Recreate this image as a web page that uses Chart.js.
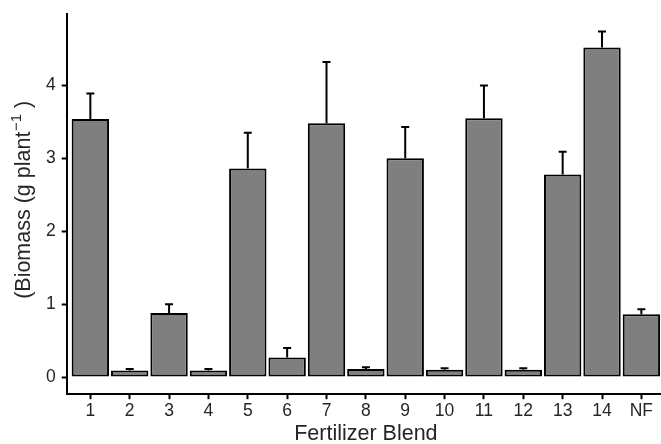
<!DOCTYPE html>
<html><head><meta charset="utf-8">
<script src="https://cdn.jsdelivr.net/npm/chart.js@4"></script>
<style>html,body{margin:0;padding:0;background:#fff;overflow:hidden;width:661px;height:444px}canvas{display:block}</style>
</head><body>
<canvas id="c" width="665" height="444"></canvas>
<script>
const categories = ['1','2','3','4','5','6','7','8','9','10','11','12','13','14','NF'];
const biomass = [3.54, 0.09, 0.88, 0.09, 2.86, 0.27, 3.48, 0.11, 3.00, 0.10, 3.55, 0.10, 2.78, 4.52, 0.86];
const biomassUpper = [3.89, 0.11, 1.00, 0.11, 3.35, 0.40, 4.32, 0.135, 3.43, 0.12, 4.00, 0.12, 3.09, 4.74, 0.93];
const yTicks = [0, 1, 2, 3, 4];
const yTitle = ['(Biomass (g plant', '\u22121', ' )'];   // main text, superscript, tail

const FONT = "'Liberation Sans', Arial, sans-serif";
const TXT = '#262626';

const errorBars = {
  id: 'errorBars',
  afterDatasetsDraw(chart) {
    const ctx = chart.ctx, xs = chart.scales.x, ys = chart.scales.y;
    ctx.save();
    ctx.strokeStyle = '#000';
    ctx.lineWidth = 2;
    biomass.forEach((v, i) => {
      const x = xs.getPixelForValue(i + 1);
      const y0 = ys.getPixelForValue(v);
      const y1 = ys.getPixelForValue(biomassUpper[i]);
      ctx.beginPath();
      ctx.moveTo(x, y0); ctx.lineTo(x, y1);
      ctx.moveTo(x - 4, y1); ctx.lineTo(x + 4, y1);
      ctx.stroke();
    });
    ctx.restore();
  }
};

const yTitlePlugin = {
  id: 'yTitleSup',
  afterDraw(chart) {
    const ctx = chart.ctx, ca = chart.chartArea;
    const big = '21.5px ' + FONT, small = '15px ' + FONT;
    ctx.save();
    ctx.fillStyle = TXT;
    ctx.textBaseline = 'alphabetic';
    ctx.textAlign = 'left';
    ctx.font = big; const w0 = ctx.measureText(yTitle[0]).width, w2 = ctx.measureText(yTitle[2]).width;
    ctx.font = small; const w1 = ctx.measureText(yTitle[1]).width;
    const total = w0 + w1 + w2;
    ctx.translate(30, (ca.top + ca.bottom) / 2 - 4);
    ctx.rotate(-Math.PI / 2);
    let x = -total / 2;
    ctx.font = big; ctx.fillText(yTitle[0], x, 0); x += w0;
    ctx.font = small; ctx.fillText(yTitle[1], x + 0.5, -9.5); x += w1 + 0.5;
    ctx.font = big; ctx.fillText(yTitle[2], x, 0);
    ctx.restore();
  }
};

new Chart(document.getElementById('c'), {
  type: 'bar',
  data: {
    datasets: [{
      data: biomass.map((v, i) => ({ x: i + 1, y: v })),
      backgroundColor: '#7f7f7f',
      borderColor: '#000',
      borderWidth: 2,
      borderSkipped: false,
      barPercentage: 0.95,
      categoryPercentage: 1
    }]
  },
  options: {
    responsive: false,
    devicePixelRatio: 1,
    animation: false,
    layout: { padding: { top: 14, right: 0, left: 40, bottom: -3 } },
    plugins: { legend: { display: false }, tooltip: { enabled: false } },
    scales: {
      x: {
        type: 'linear',
        offset: false,
        min: 0.4, max: 15.6,
        afterBuildTicks: s => { s.ticks = categories.map((c, i) => ({ value: i + 1 })); },
        ticks: {
          callback: v => categories[Math.round(v) - 1] ?? '',
          color: TXT, font: { family: FONT, size: 17.5 }, padding: 1, maxRotation: 0, autoSkip: false
        },
        grid: { offset: false, drawOnChartArea: false, drawTicks: true, tickLength: 5, tickWidth: 2, tickColor: '#000' },
        border: { display: true, color: '#000', width: 2 },
        title: { display: true, text: 'Fertilizer Blend', color: TXT, font: { family: FONT, size: 21.5 }, padding: { top: -1, bottom: 0 } }
      },
      y: {
        min: -0.235, max: 4.98,
        afterBuildTicks: s => { s.ticks = yTicks.map(v => ({ value: v })); },
        afterFit: s => { s.paddingTop = 0; },
        ticks: { color: TXT, font: { family: FONT, size: 17.5 }, padding: 6 },
        grid: { drawOnChartArea: false, drawTicks: true, tickLength: 5, tickWidth: 2, tickColor: '#000' },
        border: { display: true, color: '#000', width: 2 },
        title: { display: false }
      }
    }
  },
  plugins: [errorBars, yTitlePlugin]
});
</script>
</body></html>
